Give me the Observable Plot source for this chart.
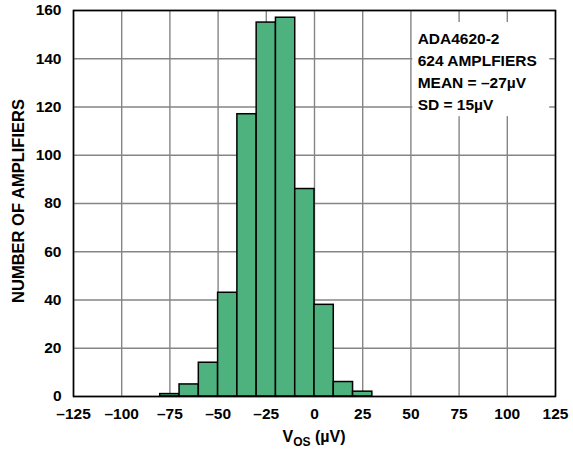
<!DOCTYPE html>
<html>
<head>
<meta charset="utf-8">
<script src="https://cdn.jsdelivr.net/npm/d3@7"></script>
<script src="https://cdn.jsdelivr.net/npm/@observablehq/plot@0.6"></script>
<style>
  html, body { margin: 0; padding: 0; background: white; }
</style>
</head>
<body>
<div id="chart"></div>
<script>
// Histogram bins (µV) and counts
const binLo = [-80, -70, -60, -50, -40, -30, -20, -10, 0, 10, 20];
const binHi = [-70, -60, -50, -40, -30, -20, -10, 0, 10, 20, 30];
const counts = [1, 5, 14, 43, 117, 155, 157, 86, 38, 6, 2];

const xTicks = [-125, -100, -75, -50, -25, 0, 25, 50, 75, 100, 125];
const yTicks = [0, 20, 40, 60, 80, 100, 120, 140, 160];

const annotationLines = ["ADA4620-2", "624 AMPLFIERS", "MEAN = \u201327\u00b5V", "SD = 15\u00b5V"];
const yLabel = "NUMBER OF AMPLIFIERS";

const data = binLo.map((lo, i) => ({lo, hi: binHi[i], count: counts[i]}));
const box = [{x1: 51, x2: 122, y1: 116, y2: 155}];
const note = [{x: 53.5, y: 152.3, text: annotationLines.join("\n")}];

const fmt = d => d < 0 ? "\u2013" + Math.abs(d) : String(d);
const green = "#4db27e";
const grid = "#858585";

const plot = Plot.plot({
  width: 573,
  height: 454,
  marginLeft: 73,
  marginRight: 18,
  marginTop: 10,
  marginBottom: 58,
  style: {
    fontFamily: "'Liberation Sans', Arial, sans-serif",
    fontSize: "15px",
    fontWeight: "bold",
    background: "white",
    color: "black",
    overflow: "visible"
  },
  x: {domain: [-125, 125], ticks: xTicks, tickFormat: fmt},
  y: {domain: [0, 160], ticks: yTicks},
  marks: [
    Plot.gridX(xTicks, {stroke: grid, strokeOpacity: 1, strokeWidth: 1.4}),
    Plot.gridY(yTicks, {stroke: grid, strokeOpacity: 1, strokeWidth: 1.4}),
    Plot.rect(box, {x1: "x1", x2: "x2", y1: "y1", y2: "y2", fill: "white"}),
    Plot.rectY(data, {x1: "lo", x2: "hi", y: "count", fill: green, stroke: "black", strokeWidth: 1.5}),
    Plot.text(note, {x: "x", y: "y", text: "text", textAnchor: "start", lineAnchor: "top", lineHeight: 1.4, fontSize: 15.5, fontWeight: "bold", fill: "black"}),
    Plot.frame({stroke: "black", strokeWidth: 1.6}),
    Plot.axisX({ticks: xTicks, tickFormat: fmt, tickSize: 0, tickPadding: 11, label: null, fontSize: 15.5}),
    Plot.axisY({ticks: yTicks, tickSize: 0, tickPadding: 12, label: null, fontSize: 15.5})
  ]
});

document.getElementById("chart").appendChild(plot);

const xs = plot.scale("x");
const ys = plot.scale("y");
const svg = d3.select(plot);

// y-axis label
const cy = (ys.range[0] + ys.range[1]) / 2;
svg.append("text")
  .attr("transform", `translate(24,${cy - 2}) rotate(-90)`)
  .attr("text-anchor", "middle")
  .attr("font-size", 16.5)
  .attr("font-weight", "bold")
  .attr("fill", "black")
  .text(yLabel);

// x-axis label with subscript
const cx = (xs.range[0] + xs.range[1]) / 2;
const t = svg.append("text")
  .attr("x", cx)
  .attr("y", 442)
  .attr("text-anchor", "middle")
  .attr("font-size", 16)
  .attr("font-weight", "bold")
  .attr("fill", "black");
t.append("tspan").text("V");
t.append("tspan").attr("font-size", 12).attr("dy", 3.5).text("OS");
t.append("tspan").attr("dy", -3.5).text(" (\u00b5V)");
</script>
</body>
</html>
